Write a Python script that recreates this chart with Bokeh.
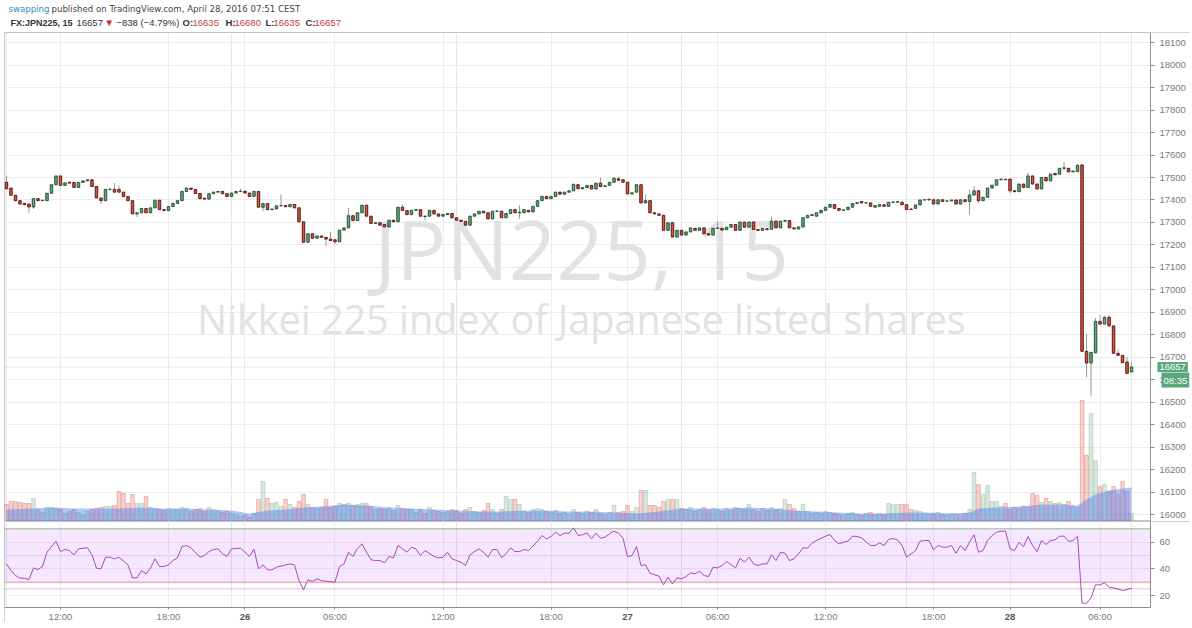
from bokeh.plotting import figure
from bokeh.models import (Range1d, LinearAxis, FixedTicker, Label, BoxAnnotation,
                          ColumnDataSource, Grid)
from bokeh.layouts import column
from bokeh.embed import file_html
from bokeh.resources import INLINE

# ---------------- data (15-minute bars, FX:JPN225) ----------------
opens = [
    17479, 17453, 17421, 17397, 17385, 17382, 17369, 17406, 17397, 17397,
    17430, 17468, 17507, 17465, 17479, 17478, 17456, 17478, 17485, 17490,
    17460, 17409, 17397, 17447, 17447, 17447, 17435, 17415, 17397, 17338,
    17343, 17362, 17343, 17365, 17399, 17357, 17353, 17371, 17385, 17397,
    17438, 17453, 17447, 17429, 17408, 17404, 17428, 17435, 17438, 17428,
    17416, 17431, 17438, 17439, 17431, 17416, 17438, 17368, 17384, 17357,
    17360, 17374, 17375, 17370, 17380, 17365, 17303, 17212, 17250, 17230,
    17240, 17234, 17226, 17223, 17214, 17266, 17276, 17330, 17309, 17343,
    17377, 17328, 17296, 17299, 17291, 17280, 17310, 17303, 17368, 17353,
    17335, 17354, 17357, 17328, 17328, 17354, 17338, 17328, 17335, 17340,
    17321, 17310, 17305, 17288, 17328, 17338, 17350, 17343, 17316, 17350,
    17350, 17321, 17340, 17357, 17343, 17343, 17354, 17347, 17372, 17397,
    17416, 17406, 17416, 17435, 17426, 17435, 17441, 17468, 17450, 17455,
    17465, 17449, 17475, 17460, 17465, 17479, 17494, 17490, 17479, 17427,
    17435, 17468, 17387, 17397, 17343, 17338, 17332, 17265, 17299, 17235,
    17265, 17244, 17258, 17274, 17265, 17276, 17250, 17244, 17274, 17274,
    17268, 17279, 17291, 17265, 17302, 17279, 17302, 17269, 17265, 17272,
    17270, 17306, 17276, 17306, 17309, 17276, 17271, 17280, 17321, 17331,
    17328, 17343, 17354, 17368, 17380, 17362, 17354, 17357, 17368, 17384,
    17393, 17387, 17387, 17368, 17372, 17379, 17372, 17390, 17390, 17390,
    17379, 17360, 17363, 17378, 17400, 17400, 17401, 17382, 17401, 17395,
    17396, 17400, 17382, 17401, 17393, 17422, 17441, 17397, 17412, 17453,
    17466, 17490, 17492, 17493, 17441, 17437, 17471, 17456, 17507, 17471,
    17449, 17500, 17485, 17518, 17515, 17541, 17541, 17525, 17526, 17556,
    16727, 16675, 16720, 16860, 16848, 16878, 16840, 16718, 16709, 16679,
    16635,
]
closes = [
    17450, 17421, 17397, 17382, 17379, 17369, 17406, 17397, 17399, 17430,
    17468, 17507, 17465, 17476, 17475, 17456, 17478, 17485, 17490, 17460,
    17409, 17397, 17447, 17447, 17435, 17435, 17415, 17397, 17338, 17343,
    17362, 17343, 17365, 17399, 17357, 17353, 17371, 17385, 17397, 17438,
    17453, 17447, 17429, 17406, 17404, 17428, 17435, 17438, 17428, 17416,
    17431, 17438, 17439, 17431, 17416, 17438, 17368, 17384, 17357, 17360,
    17374, 17375, 17370, 17380, 17365, 17303, 17212, 17250, 17230, 17240,
    17234, 17226, 17220, 17214, 17266, 17276, 17330, 17309, 17343, 17377,
    17328, 17296, 17299, 17288, 17280, 17310, 17303, 17368, 17353, 17335,
    17354, 17357, 17328, 17327, 17354, 17338, 17328, 17335, 17340, 17321,
    17310, 17305, 17288, 17328, 17338, 17350, 17343, 17316, 17350, 17351,
    17321, 17340, 17357, 17343, 17346, 17357, 17347, 17372, 17397, 17416,
    17406, 17416, 17435, 17426, 17435, 17441, 17470, 17450, 17455, 17465,
    17449, 17475, 17460, 17463, 17479, 17497, 17488, 17479, 17427, 17432,
    17468, 17387, 17397, 17343, 17338, 17332, 17265, 17299, 17235, 17265,
    17244, 17258, 17276, 17265, 17276, 17250, 17244, 17274, 17275, 17266,
    17279, 17291, 17265, 17302, 17279, 17302, 17269, 17265, 17274, 17268,
    17306, 17276, 17306, 17309, 17276, 17271, 17280, 17321, 17331, 17335,
    17343, 17354, 17368, 17380, 17362, 17354, 17356, 17368, 17384, 17388,
    17387, 17388, 17372, 17375, 17379, 17372, 17390, 17391, 17393, 17379,
    17357, 17358, 17378, 17400, 17401, 17404, 17382, 17401, 17393, 17396,
    17400, 17382, 17401, 17393, 17422, 17441, 17397, 17412, 17453, 17466,
    17490, 17493, 17490, 17441, 17437, 17471, 17456, 17507, 17471, 17449,
    17500, 17485, 17515, 17512, 17541, 17543, 17525, 17529, 17554, 16727,
    16675, 16722, 16860, 16848, 16878, 16840, 16718, 16709, 16676, 16629,
    16657,
]
# wick extremes read where a shadow is visible (bar index -> price)
wick_highs = {0: 17509, 23: 17455, 24: 17475, 25: 17465, 52: 17450, 61: 17424, 72: 17258,
              76: 17364, 88: 17380, 114: 17376, 132: 17500, 136: 17505, 142: 17425,
              158: 17306, 170: 17325, 214: 17445, 215: 17462, 227: 17520, 235: 17569,
              238: 17560, 240: 16804, 242: 16875, 243: 16889, 244: 16885, 245: 16890,
              247: 16735, 249: 16700, 250: 16680}
wick_lows = {5: 17343, 6: 17360, 21: 17382, 23: 17440, 29: 17324, 57: 17350, 71: 17195,
             73: 17205, 93: 17310, 114: 17316, 214: 17335, 216: 17385, 223: 17430,
             235: 17530, 240: 16611, 241: 16530, 250: 16635}

volumes = [
    170, 200, 200, 190, 180, 180, 230, 120, 90, 140,
    140, 130, 120, 80, 100, 120, 90, 70, 100, 120,
    130, 140, 150, 150, 160, 300, 280, 180, 270, 180,
    180, 250, 140, 130, 120, 110, 130, 120, 120, 140,
    130, 100, 120, 130, 100, 140, 120, 110, 90, 100,
    80, 70, 50, 60, 40, 80, 220, 400, 230, 180,
    190, 150, 220, 170, 140, 200, 270, 170, 140, 130,
    140, 220, 140, 150, 180, 170, 180, 160, 170, 180,
    180, 150, 120, 130, 120, 140, 110, 160, 130, 120,
    120, 90, 120, 80, 140, 110, 100, 90, 100, 120,
    110, 80, 120, 140, 100, 90, 110, 180, 120, 80,
    120, 250, 220, 220, 170, 100, 90, 120, 130, 120,
    100, 90, 110, 80, 90, 70, 120, 90, 80, 100,
    90, 120, 80, 70, 90, 160, 90, 100, 160, 100,
    140, 310, 310, 160, 160, 140, 200, 220, 220, 220,
    130, 120, 140, 100, 120, 140, 110, 130, 120, 100,
    130, 110, 140, 130, 120, 170, 120, 100, 130, 110,
    140, 120, 130, 220, 170, 130, 100, 170, 100, 80,
    90, 80, 100, 90, 80, 70, 60, 80, 90, 70,
    60, 80, 90, 70, 80, 70, 180, 170, 170, 170,
    170, 120, 110, 100, 80, 70, 80, 90, 70, 60,
    80, 70, 60, 80, 120, 490, 370, 270, 360, 200,
    200, 150, 180, 120, 140, 130, 150, 140, 280, 260,
    190, 230, 200, 180, 190, 170, 200, 150, 140, 1210,
    660, 1080, 610, 350, 370, 300, 350, 270, 400, 300,
    80,
]
vol_ma_bars = [0, 5, 10, 15, 20, 25, 30, 35, 40, 45, 50, 54, 58, 62, 66, 70, 75, 80, 85, 90,
               95, 100, 105, 110, 115, 120, 125, 130, 135, 140, 145, 150, 155, 160, 165, 170,
               175, 180, 185, 190, 195, 200, 205, 210, 214, 216, 220, 225, 230, 235, 238, 240,
               242, 245, 248, 250]
vol_ma = [120, 130, 140, 130, 130, 130, 140, 130, 130, 120, 110, 80, 110, 120, 140, 150, 170,
          160, 140, 130, 120, 110, 100, 100, 110, 110, 100, 100, 90, 80, 100, 130, 130, 130,
          140, 130, 110, 100, 90, 80, 80, 90, 90, 80, 90, 130, 140, 150, 170, 170, 160, 220,
          270, 310, 330, 340]

rsi_bars = [0, 1, 2, 3, 4, 5, 6, 7, 8, 9, 11, 12, 13, 14, 15, 16, 17, 18, 19, 20, 21, 22, 23, 24,
            25, 27, 28, 29, 30, 31, 32, 33, 34, 35, 36, 37, 38, 39, 40, 41, 43, 44, 45, 46, 47,
            48, 49, 50, 52, 53, 54, 55, 56, 57, 58, 59, 60, 62, 63, 64, 65, 66, 67, 68, 69, 70,
            71, 73, 74, 75, 76, 77, 78, 79, 80, 81, 82, 83, 84, 85, 86, 87, 88, 89, 90, 91, 92,
            93, 95, 96, 97, 98, 99, 100, 101, 102, 103, 104, 105, 106, 107, 108, 109, 110, 111,
            112, 113, 114, 115, 116, 118, 119, 120, 121, 122, 123, 124, 125, 126, 127, 128, 129,
            130, 131, 132, 133, 134, 135, 136, 137, 138, 139, 140, 141, 142, 143, 144, 145, 146,
            147, 148, 149, 150, 151, 152, 153, 154, 155, 156, 157, 158, 159, 160, 162, 163, 164,
            165, 166, 167, 168, 169, 170, 171, 172, 173, 174, 175, 176, 177, 178, 179, 180, 181,
            183, 184, 185, 186, 187, 188, 189, 190, 192, 193, 194, 195, 196, 197, 198, 199, 200,
            201, 202, 203, 204, 205, 206, 207, 208, 209, 210, 211, 212, 213, 214, 215, 216, 217,
            218, 219, 220, 221, 222, 223, 224, 225, 226, 227, 228, 229, 230, 231, 232, 233, 234,
            235, 236, 237, 238, 239, 240, 241, 242, 243, 244, 245, 246, 247, 248, 249, 250]
rsi_values = [43.75, 38.75, 35, 33, 33, 32, 40.75, 39.5, 41.75, 52.5, 60.75, 53, 54.5, 53.75, 50.5,
              55, 55.5, 55.75, 50.5, 40.5, 40, 48.75, 48.75, 47.5, 48.75, 43, 33.25, 33.25, 38.75,
              36.25, 40.5, 47.5, 41.75, 41.75, 43, 46.25, 48.25, 56.75, 57.5, 55.75, 48.75, 50, 53,
              54.5, 55, 51.25, 49.25, 55, 55.5, 52.5, 49.25, 54.75, 40, 43, 39.25, 39.25, 41.25,
              43, 43.75, 43, 31.25, 24.25, 31.75, 30.5, 32.5, 31.25, 30.75, 30, 41.75, 43.75, 52.5,
              49.25, 55.5, 58.75, 52.5, 46.75, 46.25, 46.25, 44.5, 49.25, 48.25, 57.5, 55, 52.5,
              56.25, 55, 50, 53.75, 49.25, 48.25, 48.75, 52.5, 47.5, 46.25, 45, 42.5, 50.5, 53,
              55, 52.5, 48.75, 54.5, 54.5, 48.25, 51.25, 55.75, 53, 53, 54.5, 53.75, 60.5, 65,
              62.5, 64.25, 67.5, 65, 66.75, 66.75, 70.75, 65, 65.5, 67, 62.5, 66.75, 63, 63.75,
              66.25, 68.25, 66.75, 63, 49.25, 50, 56.75, 42.5, 43, 36.75, 35.5, 34.5, 28, 33.75,
              28.75, 33.25, 32.5, 34.25, 37, 36.25, 38.25, 35, 34.25, 41.25, 40.75, 42.5, 45.5,
              40.75, 48, 45, 48.75, 43.75, 42.5, 43.75, 43.75, 50.5, 46.25, 52.5, 51.75, 46.25,
              47.5, 51.25, 55.75, 55.5, 59.25, 61.25, 63, 65.75, 61.25, 58.75, 60, 60.75, 64.5,
              64.25, 63.25, 57.5, 57.5, 59.5, 57.5, 62, 62.75, 61.75, 57.5, 48.75, 51.25, 53.75,
              60.75, 61.25, 61.25, 54.25, 57.5, 56.25, 56.25, 57.5, 51.75, 57.5, 53.75, 60, 65.5,
              52.5, 53.75, 61.25, 65, 67.5, 68.25, 68.25, 55, 53.75, 60, 56.75, 64.25, 57.5, 53,
              61.25, 58.25, 61.25, 61.75, 64.5, 64.5, 60.5, 61.25, 64.5, 14.25, 14.25, 18.25, 28,
              28, 29.5, 26.25, 25.75, 25, 23.75, 24.5, 25.5]

price_ticks = list(range(16000, 18101, 100))
rsi_ticks = [20, 40, 60]
rsi_upper, rsi_lower, rsi_marker = 70, 30, 25
time_ticks = [12, 36, 53, 73, 97, 121, 138, 158, 182, 206, 223, 243]
time_labels = ["12:00", "18:00", "26", "06:00", "12:00", "18:00", "27", "06:00", "12:00",
               "18:00", "28", "06:00"]
day_labels = {"26", "27", "28"}
last_price = 16657
countdown = "08:35"

# ---------------- layout / styling constants ----------------
UP, DOWN = "#6ba583", "#d75442"
UP_LINE, DOWN_LINE = "#225437", "#5b1a13"
FONT = "Liberation Sans"
AX_COL = "#7a7a7a"
AX_LINE = "#8c8c8c"
GRID = "#ececec"
FRAME = "#c4c4c4"
W = 1190
X0, X1 = -0.44, 263.1       # visible bar-index span (includes the price-scale strip)
SCALE_X = 254.2             # where the price scale sits
RSI_LO, RSI_HI = -0.2, 75.5  # RSI pane incl. the time-label strip
RSI_FLOOR = 11.05           # bottom of the RSI plotting area (time axis line)
DAY_LABEL_Y = 3.6

n = len(closes)
bars = list(range(n))
highs = [max(opens[i], closes[i], wick_highs.get(i, 0)) for i in bars]
lows = [min(opens[i], closes[i], wick_lows.get(i, 10 ** 9)) for i in bars]
up = [closes[i] >= opens[i] for i in bars]
src = ColumnDataSource(dict(
    x=bars, top=[max(o, c) for o, c in zip(opens, closes)],
    bottom=[min(o, c) for o, c in zip(opens, closes)], high=highs, low=lows,
    fill=[UP if u else DOWN for u in up], line=[UP_LINE if u else DOWN_LINE for u in up],
    vol=volumes))

xr = Range1d(X0, X1)


def hline(fig, loc, color, width=1, dash="solid"):
    fig.add_layout(BoxAnnotation(bottom=loc, top=loc, right=SCALE_X, fill_alpha=0,
                                 line_color=color, line_width=width, line_dash=dash))


# ---------------- header ----------------
h = figure(width=W, height=32, x_range=Range1d(0, 1), y_range=Range1d(0, 1),
           output_backend="svg", toolbar_location=None, x_axis_location=None,
           y_axis_location=None, min_border=0, outline_line_color=None,
           background_fill_color="white", border_fill_color="white")
h.xgrid.visible = False
h.ygrid.visible = False
y1, y2 = 24, 10
hdr = [
    (4, y1, "swapping", "#2e89c8", "normal", "DejaVu Sans", "8.6px"),
    (47, y1, "published on TradingView.com, April 28, 2016 07:51 CEST", "#444444", "normal",
     "DejaVu Sans", "8.6px"),
    (6, y2, "FX:JPN225, 15", "#333333", "bold", FONT, "9px"),
    (72, y2, "16657", "#333333", "normal", FONT, "9.5px"),
    (100, y2, "\u25bc", "#c62828", "normal", FONT, "9.5px"),
    (112, y2, "\u2212838 (\u22124.79%)", "#333333", "normal", FONT, "9.5px"),
    (178, y2, "O:", "#333333", "bold", FONT, "9.5px"),
    (188, y2, "16635", "#c1403a", "normal", FONT, "9.5px"),
    (221, y2, "H:", "#333333", "bold", FONT, "9.5px"),
    (230, y2, "16680", "#c1403a", "normal", FONT, "9.5px"),
    (261, y2, "L:", "#333333", "bold", FONT, "9.5px"),
    (269, y2, "16635", "#c1403a", "normal", FONT, "9.5px"),
    (301, y2, "C:", "#333333", "bold", FONT, "9.5px"),
    (310, y2, "16657", "#c1403a", "normal", FONT, "9.5px"),
]
for hx, hy, t, col, st, fnt, fs in hdr:
    h.add_layout(Label(x=hx, y=hy, x_units="screen", y_units="screen", text=t,
                       text_baseline="middle", text_font=fnt, text_font_size=fs,
                       text_color=col, text_font_style=st))

# ---------------- main pane ----------------
p = figure(width=W, height=489, x_range=xr, y_range=Range1d(15970, 18145),
           output_backend="svg", toolbar_location=None, x_axis_location=None,
           y_axis_location=None, min_border_left=4, min_border_right=0,
           min_border_top=0, min_border_bottom=0, background_fill_color="white",
           border_fill_color="white", outline_line_color=FRAME)
p.extra_y_ranges = {"vol": Range1d(0, 4890)}
p.add_layout(Grid(dimension=0, ticker=FixedTicker(ticks=time_ticks), grid_line_color=GRID))
p.add_layout(Grid(dimension=1, ticker=FixedTicker(ticks=price_ticks), grid_line_color=GRID))
p.add_layout(BoxAnnotation(left=SCALE_X, fill_color="white", fill_alpha=1, line_alpha=0,
                           level="underlay"))

yax = LinearAxis(ticker=FixedTicker(ticks=price_ticks), fixed_location=SCALE_X,
                 axis_line_color=AX_LINE, major_tick_line_color=AX_LINE, major_tick_out=4,
                 major_tick_in=0, minor_tick_out=0, minor_tick_in=0, major_label_standoff=5,
                 major_label_text_font=FONT, major_label_text_font_size="9.5px",
                 major_label_text_color=AX_COL)
p.add_layout(yax, "right")

# watermark
p.add_layout(Label(x=577, y=274, x_units="screen", y_units="screen", text="JPN225, 15",
                   text_align="center", text_baseline="middle", text_font="Open Sans",
                   text_font_size="83px", text_color="#e2e2e2", level="underlay"))
p.add_layout(Label(x=577, y=203, x_units="screen", y_units="screen",
                   text="Nikkei 225 index of Japanese listed shares", text_align="center",
                   text_baseline="middle", text_font="Open Sans", text_font_size="39.5px",
                   text_color="#e2e2e2", level="underlay"))

# volume + its moving average
p.vbar(x="x", top="vol", bottom=0, width=0.8, source=src, y_range_name="vol",
       fill_color="fill", fill_alpha=0.25, line_color="fill", line_alpha=0.35)
p.varea(x=vol_ma_bars, y1=[0] * len(vol_ma), y2=vol_ma, y_range_name="vol",
        fill_color="#4f7ff0", fill_alpha=0.45)

# candles
p.segment(x0="x", y0="low", x1="x", y1="high", source=src, line_color="#9a9a9a", line_width=1)
p.vbar(x="x", top="top", bottom="bottom", width=0.55, source=src, fill_color="fill",
       line_color="line", line_width=1)

hline(p, last_price, "#53a06f", 1, "1 2")
p.add_layout(Label(x=SCALE_X, y=last_price, x_offset=7, text=str(last_price),
                   text_baseline="middle", text_font=FONT, text_font_size="9.5px",
                   text_color="white", background_fill_color="#5aa77b", padding=2))
p.add_layout(Label(x=SCALE_X, y=last_price, x_offset=11, y_offset=-13, text=countdown,
                   text_baseline="middle", text_font=FONT, text_font_size="9.5px",
                   text_color="white", background_fill_color="#5aa77b", padding=2))

# ---------------- RSI pane ----------------
r = figure(width=W, height=101, x_range=xr, y_range=Range1d(RSI_LO, RSI_HI),
           output_backend="svg", toolbar_location=None, x_axis_location=None,
           y_axis_location=None, min_border_left=4, min_border_right=0, min_border_top=0,
           min_border_bottom=0, background_fill_color="white", border_fill_color="white",
           outline_line_color=FRAME)
r.add_layout(Grid(dimension=0, ticker=FixedTicker(ticks=time_ticks), grid_line_color=GRID))
r.add_layout(Grid(dimension=1, ticker=FixedTicker(ticks=rsi_ticks), grid_line_color=GRID))
r.add_layout(BoxAnnotation(left=SCALE_X, fill_color="white", fill_alpha=1, line_alpha=0,
                           level="underlay"))
r.add_layout(BoxAnnotation(top=RSI_FLOOR, fill_color="white", fill_alpha=1, line_alpha=0,
                           level="underlay"))
r.add_layout(BoxAnnotation(bottom=rsi_lower, top=rsi_upper, right=SCALE_X,
                           fill_color="#9915ff", fill_alpha=0.1, line_alpha=0,
                           level="underlay"))
hline(r, rsi_upper, "#6aa85f", 1)
hline(r, rsi_lower, "#e06666", 2)
hline(r, rsi_marker, "#9c27b0", 1, "1 1")
r.line(rsi_bars, rsi_values, line_color="#ab47bc", line_width=1)

rax = LinearAxis(ticker=FixedTicker(ticks=rsi_ticks), fixed_location=SCALE_X,
                 bounds=(RSI_FLOOR, RSI_HI), axis_line_color=AX_LINE,
                 major_tick_line_color=AX_LINE, major_tick_out=4, major_tick_in=0,
                 minor_tick_out=0, minor_tick_in=0, major_label_standoff=5,
                 major_label_text_font=FONT, major_label_text_font_size="9.5px",
                 major_label_text_color=AX_COL)
r.add_layout(rax, "right")
overrides = {t: ("" if lab in day_labels else lab) for t, lab in zip(time_ticks, time_labels)}
xax = LinearAxis(ticker=FixedTicker(ticks=time_ticks), major_label_overrides=overrides,
                 fixed_location=RSI_FLOOR, bounds=(X0, SCALE_X),
                 axis_line_color=AX_LINE, major_tick_line_color=AX_LINE,
                 major_tick_out=2, major_tick_in=0, minor_tick_out=0, minor_tick_in=0,
                 major_label_standoff=2, major_label_text_font=FONT,
                 major_label_text_font_size="9.5px", major_label_text_color=AX_COL)
r.add_layout(xax, "below")
for t, lab in zip(time_ticks, time_labels):
    if lab in day_labels:
        r.add_layout(Label(x=t, y=DAY_LABEL_Y, text=lab, text_align="center",
                           text_baseline="middle", text_font=FONT, text_font_size="9.5px",
                           text_font_style="bold", text_color="#555555"))

layout = column(h, p, r, spacing=0)
open("out.html", "w").write(file_html(layout, INLINE))
